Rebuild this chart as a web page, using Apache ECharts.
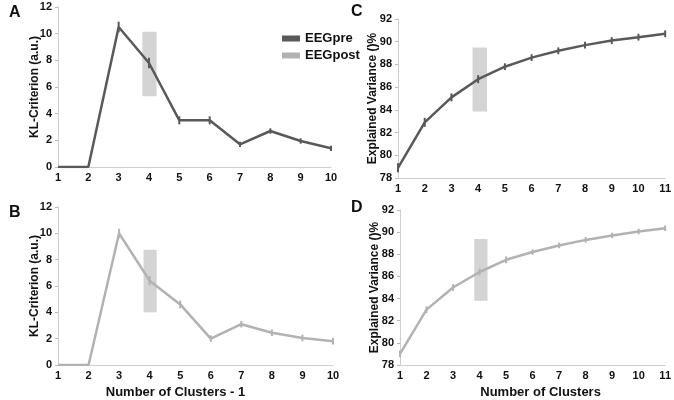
<!DOCTYPE html>
<html>
<head>
<meta charset="utf-8">
<script src="https://cdn.jsdelivr.net/npm/echarts@6/dist/echarts.min.js"></script>
<style>html,body{margin:0;padding:0;background:#fff}#c{width:674px;height:400px}</style>
</head>
<body>
<div id="c"></div>
<script>
// Panel A / B: KL-criterion vs number of clusters - 1
var klX = [1, 2, 3, 4, 5, 6, 7, 8, 9, 10];
var klPre = [0, 0, 10.5, 7.8, 3.5, 3.5, 1.7, 2.7, 1.95, 1.4];
var klPreErr = [0, 0, 0.4, 0.4, 0.3, 0.3, 0.2, 0.2, 0.2, 0.2];
var klPost = [0, 0, 10.0, 6.4, 4.6, 2.0, 3.1, 2.45, 2.05, 1.8];
var klPostErr = [0, 0, 0.35, 0.35, 0.3, 0.25, 0.25, 0.25, 0.25, 0.25];
// Panel C / D: explained variance vs number of clusters
var evX = [1, 2, 3, 4, 5, 6, 7, 8, 9, 10, 11];
var evPre = [78.9, 82.9, 85.1, 86.7, 87.8, 88.6, 89.2, 89.7, 90.1, 90.4, 90.7];
var evPreErr = [0.4, 0.4, 0.35, 0.35, 0.3, 0.3, 0.3, 0.3, 0.3, 0.3, 0.3];
var evPost = [79.0, 83.0, 85.0, 86.4, 87.5, 88.2, 88.8, 89.3, 89.7, 90.05, 90.35];
var evPostErr = [0.3, 0.3, 0.3, 0.3, 0.3, 0.25, 0.25, 0.25, 0.25, 0.25, 0.25];
// highlight rectangles [x0, y0, x1, y1]
var rectA = [3.78, 5.3, 4.25, 10.15];
var rectB = [3.8, 4.0, 4.23, 8.75];
var rectC = [3.79, 83.85, 4.33, 89.5];
var rectD = [3.8, 83.8, 4.3, 89.38];

var cPre = '#595959', cPost = '#b2b2b2', cRect = '#d4d4d4';
var F = 'Liberation Sans, Arial, sans-serif';

function pairs(xs, ys) { return xs.map(function (x, i) { return [x, ys[i]]; }); }
function errData(xs, ys, es) { return xs.map(function (x, i) { return [x, ys[i], es[i]]; }); }

function xAxis(idx, max, name, pad) {
  return {
    type: 'value', gridIndex: idx, min: 1, max: max, interval: 1,
    axisLine: { show: true, onZero: false, lineStyle: { color: '#cfcfcf', width: 1 } },
    axisTick: { show: false }, splitLine: { show: false },
    axisLabel: { color: '#111', fontFamily: F, fontWeight: 'bold', fontSize: 11, margin: 5 },
    name: name, nameLocation: 'middle', nameGap: 21, nameMoveOverlap: false,
    nameTextStyle: { color: '#111', fontFamily: F, fontWeight: 'bold', fontSize: 13, padding: pad || 0 }
  };
}
function yAxis(idx, min, max, interval, name, gap) {
  return {
    type: 'value', gridIndex: idx, min: min, max: max, interval: interval,
    axisLine: { show: true, onZero: false, lineStyle: { color: '#cfcfcf', width: 1 } },
    axisTick: { show: true, length: 3, lineStyle: { color: '#bbb' } }, splitLine: { show: false },
    axisLabel: { color: '#111', fontFamily: F, fontWeight: 'bold', fontSize: 11, margin: 6 },
    name: name, nameLocation: 'middle', nameGap: gap, nameMoveOverlap: false,
    nameTextStyle: { color: '#111', fontFamily: F, fontWeight: 'bold', fontSize: 12 }
  };
}
function lineSeries(idx, name, xs, ys, color, rect) {
  return {
    type: 'line', name: name, xAxisIndex: idx, yAxisIndex: idx,
    data: pairs(xs, ys), showSymbol: false, symbol: 'none', z: 3,
    lineStyle: { color: color, width: 2.5 }, itemStyle: { color: color },
    markArea: {
      silent: true, itemStyle: { color: cRect, opacity: 1 },
      data: [[{ coord: [rect[0], rect[1]] }, { coord: [rect[2], rect[3]] }]]
    }
  };
}
function errSeries(idx, xs, ys, es, color) {
  return {
    type: 'custom', xAxisIndex: idx, yAxisIndex: idx, z: 4, silent: true,
    data: errData(xs, ys, es),
    renderItem: function (params, api) {
      var x = api.value(0), y = api.value(1), e = api.value(2);
      if (!e) return null;
      var p1 = api.coord([x, y - e]), p2 = api.coord([x, y + e]);
      return { type: 'line', shape: { x1: p1[0], y1: p1[1], x2: p2[0], y2: p2[1] },
               style: { stroke: color, lineWidth: 2 } };
    }
  };
}

var chart = echarts.init(document.getElementById('c'), null, { renderer: 'canvas' });
chart.setOption({
  animation: false,
  backgroundColor: '#fff',
  grid: [
    { left: 58, top: 7, width: 273, height: 160 },
    { left: 58, top: 207, width: 275, height: 160 },
    { left: 398, top: 19, width: 268, height: 159 },
    { left: 400, top: 210, width: 268, height: 162 }
  ],
  xAxis: [
    xAxis(0, 10, ''),
    xAxis(1, 10, 'Number of Clusters - 1', [0, 40, 0, 0]),
    xAxis(2, 11, ''),
    xAxis(3, 11, 'Number of Clusters', [0, 0, 0, 16])
  ],
  yAxis: [
    yAxis(0, 0, 12, 2, 'KL-Criterion (a.u.)', 17),
    yAxis(1, 0, 12, 2, 'KL-Criterion (a.u.)', 17),
    yAxis(2, 78, 92, 2, 'Explained Variance ()%', 19),
    yAxis(3, 78, 92, 2, 'Explained Variance ()%', 19)
  ],
  legend: {
    data: ['EEGpre', 'EEGpost'], orient: 'vertical', left: 277, top: 27,
    itemWidth: 18, itemHeight: 6, itemGap: 4, icon: 'rect',
    textStyle: { color: '#111', fontFamily: F, fontWeight: 'bold', fontSize: 13 }
  },
  graphic: [
    { type: 'text', left: 9, top: 5, style: { text: 'A', font: 'bold 16px ' + F, fill: '#111' } },
    { type: 'text', left: 9, top: 205, style: { text: 'B', font: 'bold 16px ' + F, fill: '#111' } },
    { type: 'text', left: 351, top: 4, style: { text: 'C', font: 'bold 16px ' + F, fill: '#111' } },
    { type: 'text', left: 351, top: 200, style: { text: 'D', font: 'bold 16px ' + F, fill: '#111' } }
  ],
  series: [
    lineSeries(0, 'EEGpre', klX, klPre, cPre, rectA),
    errSeries(0, klX, klPre, klPreErr, cPre),
    lineSeries(1, 'EEGpost', klX, klPost, cPost, rectB),
    errSeries(1, klX, klPost, klPostErr, cPost),
    lineSeries(2, 'EEGpre', evX, evPre, cPre, rectC),
    errSeries(2, evX, evPre, evPreErr, cPre),
    lineSeries(3, 'EEGpost', evX, evPost, cPost, rectD),
    errSeries(3, evX, evPost, evPostErr, cPost)
  ]
});
</script>
</body>
</html>
